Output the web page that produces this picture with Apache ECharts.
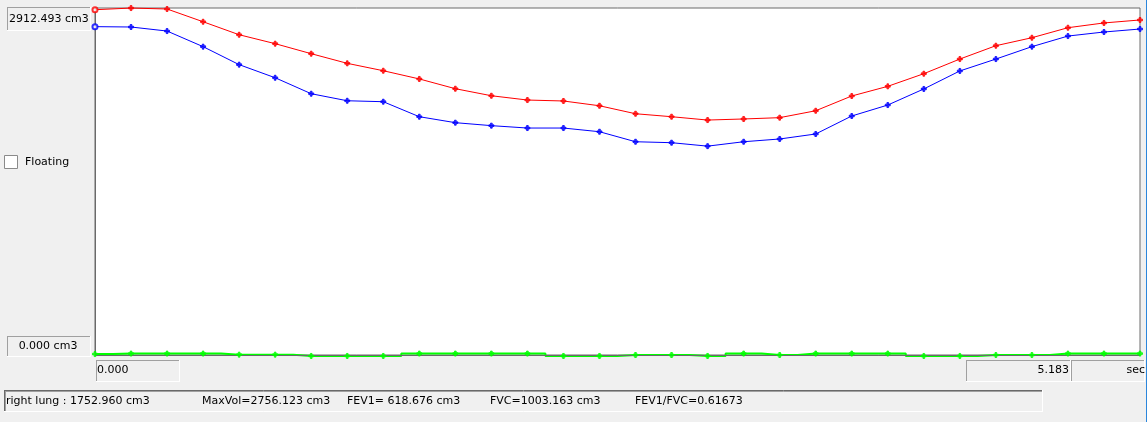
<!DOCTYPE html>
<html>
<head>
<meta charset="utf-8">
<script src="https://cdn.jsdelivr.net/npm/echarts@6/dist/echarts.min.js"></script>
<style>
html,body{margin:0;padding:0;background:#f0f0f0;}
#c{width:1147px;height:422px;}
</style>
</head>
<body>
<div id="c"></div>
<script>
// time (sec) categories
const times = ['0.000','0.179','0.357','0.536','0.715','0.894','1.072','1.251','1.430','1.608',
  '1.787','1.966','2.145','2.323','2.502','2.681','2.859','3.038','3.217','3.396',
  '3.574','3.753','3.932','4.110','4.289','4.468','4.647','4.825','5.004','5.183'];
// volumes (cm3)
const redVol = [2898,2912,2904,2797,2688,2613,2529,2448,2386,2317,
  2235,2176,2140,2132,2092,2025,2000,1972,1981,1992,
  2050,2174,2255,2361,2484,2596,2663,2747,2787,2812];
const blueVol = [2756,2753,2719,2588,2437,2327,2193,2134,2126,2000,
  1950,1925,1905,1905,1874,1790,1782,1753,1790,1813,
  1855,2006,2098,2233,2384,2484,2588,2677,2711,2736];
const greenVol = [8,12,12,12,3,3,-8,-8,-8,12,
  12,12,12,-8,-8,0,0,-8,12,0,
  12,12,12,-8,-8,0,0,12,12,12];
const yMax = 2912.493;
const yTopLabel = '2912.493 cm3';
const yBottomLabel = '0.000 cm3';
const xStartLabel = '0.000';
const xEndLabel = '5.183';
const xUnit = 'sec';
const checkLabel = 'Floating';
const statusTexts = ['right lung : 1752.960 cm3','MaxVol=2756.123 cm3','FEV1= 618.676 cm3','FVC=1003.163 cm3','FEV1/FVC=0.61673'];

const FONT = '11px "DejaVu Sans"';
const plusPath = 'path://M2,0H4V2H6V4H4V6H2V4H0V2H2Z';

function lineSeries(data, color, step, width) {
  return {type:'line', data:data, step:step||false, showSymbol:false, clip:false, z:2,
    lineStyle:{color:color, width:width||1}, itemStyle:{color:color}, animation:false, silent:true};
}
function markerSeries(data, color, firstHollow) {
  return {type:'scatter', data:data.map((v,i)=> (i===0 && firstHollow) ? {value:v, symbol:'emptyCircle', symbolSize:5} : v),
    symbol:plusPath, symbolSize:5, clip:false, z:5, itemStyle:{color:color, borderColor:color}, animation:false, silent:true};
}
function sunkenBox(x, y, w, h, dark, light, z) {
  return [
    {type:'rect', shape:{x:x, y:y, width:w, height:h}, style:{fill:'#f0f0f0'}, z:z||10},
    {type:'line', shape:{x1:x, y1:y+0.5, x2:x+w, y2:y+0.5}, style:{stroke:dark, lineWidth:1}, z:(z||10)+1},
    {type:'line', shape:{x1:x+0.5, y1:y, x2:x+0.5, y2:y+h}, style:{stroke:dark, lineWidth:1}, z:(z||10)+1},
    {type:'line', shape:{x1:x, y1:y+h-0.5, x2:x+w, y2:y+h-0.5}, style:{stroke:light, lineWidth:1}, z:(z||10)+1},
    {type:'line', shape:{x1:x+w-0.5, y1:y, x2:x+w-0.5, y2:y+h}, style:{stroke:light, lineWidth:1}, z:(z||10)+1}
  ];
}
function txt(s, x, y, align) {
  return {type:'text', x:x, y:y, z:20, style:{text:s, font:FONT, fill:'#000', textAlign:align||'left', textVerticalAlign:'middle'}};
}

const graphics = [].concat(
  sunkenBox(7, 7, 84, 24, '#a0a0a0', '#ffffff'),
  [txt(yTopLabel, 9, 19)],
  sunkenBox(7, 336, 84, 21, '#a0a0a0', '#ffffff'),
  [txt(yBottomLabel, 48, 346, 'center')],
  sunkenBox(96, 360, 84, 22, '#a0a0a0', '#ffffff'),
  [txt(xStartLabel, 97, 370)],
  sunkenBox(966, 360, 105, 22, '#a0a0a0', '#ffffff'),
  [txt(xEndLabel, 1069, 370, 'right')],
  sunkenBox(1071, 360, 74, 22, '#a0a0a0', '#ffffff'),
  [txt(xUnit, 1145, 370, 'right')],
  [{type:'rect', shape:{x:4.5, y:155.5, width:13, height:13}, style:{fill:'#ffffff', stroke:'#8a8a8a', lineWidth:1}, z:10},
   txt(checkLabel, 25, 162)],
  [{type:'rect', shape:{x:4, y:390, width:1039, height:22}, style:{fill:'#f0f0f0'}, z:10},
   {type:'line', shape:{x1:4, y1:390.5, x2:1043, y2:390.5}, style:{stroke:'#696969', lineWidth:1}, z:11},
   {type:'line', shape:{x1:4, y1:391.5, x2:1043, y2:391.5}, style:{stroke:'#a0a0a0', lineWidth:1}, z:11},
   {type:'line', shape:{x1:4.5, y1:390, x2:4.5, y2:412}, style:{stroke:'#696969', lineWidth:1}, z:11},
   {type:'line', shape:{x1:5.5, y1:391, x2:5.5, y2:412}, style:{stroke:'#a0a0a0', lineWidth:1}, z:11},
   {type:'line', shape:{x1:4, y1:411.5, x2:1043, y2:411.5}, style:{stroke:'#ffffff', lineWidth:1}, z:11},
   {type:'line', shape:{x1:1042.5, y1:390, x2:1042.5, y2:412}, style:{stroke:'#ffffff', lineWidth:1}, z:11},
   txt(statusTexts[0], 6, 401), txt(statusTexts[1], 202, 401), txt(statusTexts[2], 347, 401),
   txt(statusTexts[3], 490, 401), txt(statusTexts[4], 635, 401)],
  [{type:'line', shape:{x1:1146.5, y1:0, x2:1146.5, y2:422}, style:{stroke:'#2b86dc', lineWidth:1}, z:30}]
);

const chart = echarts.init(document.getElementById('c'), null, {renderer:'canvas'});
chart.setOption({
  animation:false,
  backgroundColor:'#f0f0f0',
  grid:{left:95, right:7, top:8, bottom:67, show:true, backgroundColor:'#ffffff', borderColor:'#6a6a6a', borderWidth:1},
  xAxis:{type:'category', data:times, boundaryGap:false, z:3,
    axisLine:{show:true, lineStyle:{color:'#6a6a6a', width:1}}, axisTick:{show:false}, axisLabel:{show:false}, splitLine:{show:false}},
  yAxis:{type:'value', min:0, max:yMax, z:3,
    axisLine:{show:true, lineStyle:{color:'#6a6a6a', width:1}}, axisTick:{show:false}, axisLabel:{show:false}, splitLine:{show:false}},
  series:[
    lineSeries(redVol, '#ff0000'),
    lineSeries(blueVol, '#0000ff'),
    lineSeries(greenVol, '#00ff00', 'middle', 2),
    markerSeries(redVol, '#ff0000', true),
    markerSeries(blueVol, '#0000ff', true),
    markerSeries(greenVol, '#00ff00', false)
  ],
  graphic:graphics
});
</script>
</body>
</html>
